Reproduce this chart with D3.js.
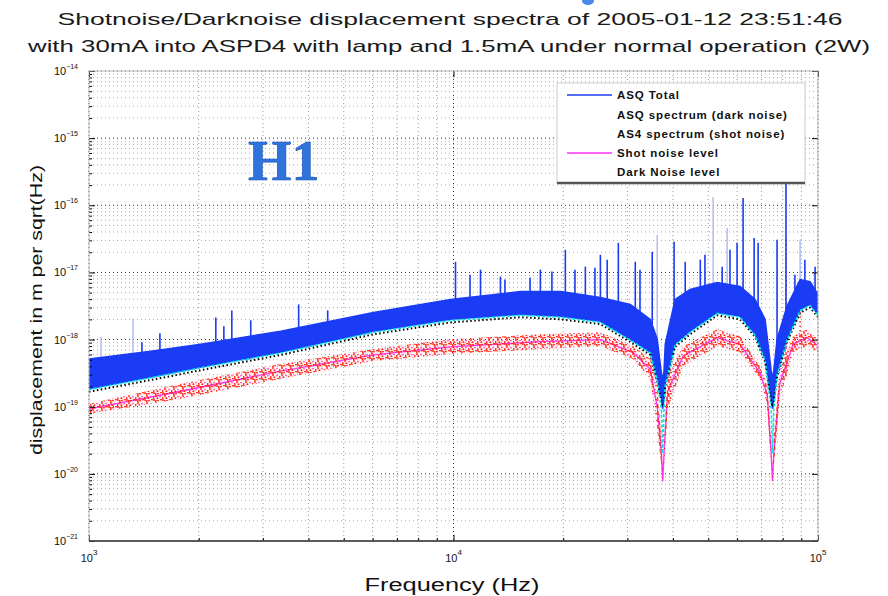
<!DOCTYPE html>
<html>
<head>
<meta charset="utf-8">
<script src="https://cdn.jsdelivr.net/npm/d3@7"></script>
<style>
body { margin: 0; background: #fff; }
svg text { font-family: "Liberation Sans", Arial, Helvetica, sans-serif; }
</style>
</head>
<body>
<div id="main"></div>
<script>
// ---- data (Hz, m/sqrt(Hz)) ----

// ASQ total: envelope of the dense blue trace
var bandFreq  = [1000, 1479, 2026, 3357, 6036, 9817, 15270, 19700, 25290, 30550, 34670, 36220, 37200, 37500, 37800, 38100,
                 40550, 44570, 52870, 61120, 67200, 71600, 74400, 75000, 75600, 77210, 82200, 89320, 95100, 100000];
var bandUpper = [5.13e-19, 6.73e-19, 8.55e-19, 1.33e-18, 2.54e-18, 3.96e-18, 5.20e-18, 5.20e-18, 4.24e-18, 3.34e-18,
                 2.00e-18, 1.01e-18, 3.08e-19, 2.60e-19, 3.41e-19, 8.55e-19, 3.96e-18, 5.57e-18, 7.06e-18, 6.17e-18,
                 3.96e-18, 2.00e-18, 3.41e-19, 2.60e-19, 3.41e-19, 1.01e-18, 3.12e-18, 7.82e-18, 7.31e-18, 4.70e-18];
var bandLower = [1.85e-19, 2.78e-19, 3.91e-19, 6.51e-19, 1.33e-18, 2.00e-18, 2.38e-18, 2.22e-18, 1.87e-18, 1.01e-18,
                 6.51e-19, 2.60e-19, 1.31e-19, 9.33e-20, 1.31e-19, 2.19e-19, 8.55e-19, 1.33e-18, 2.54e-18, 2.22e-18,
                 1.20e-18, 5.13e-19, 1.31e-19, 9.33e-20, 1.31e-19, 3.08e-19, 1.01e-18, 2.82e-18, 3.34e-18, 2.38e-18];
// black dots (shot noise spectrum) and cyan dots (dark noise spectrum), same frequencies
var shotSpec  = [1.67e-19, 2.50e-19, 3.50e-19, 5.90e-19, 1.20e-18, 1.80e-18, 2.15e-18, 2.00e-18, 1.70e-18, 9.20e-19,
                 5.90e-19, 2.40e-19, 1.20e-19, 1.00e-19, 1.20e-19, 2.00e-19, 7.80e-19, 1.20e-18, 2.30e-18, 2.00e-18,
                 1.10e-18, 4.60e-19, 1.20e-19, 1.00e-19, 1.20e-19, 2.80e-19, 9.20e-19, 2.50e-18, 3.00e-18, 2.15e-18];
var darkSpec  = [1.80e-19, 2.70e-19, 3.80e-19, 6.30e-19, 1.28e-18, 1.92e-18, 2.30e-18, 2.15e-18, 1.80e-18, 9.80e-19,
                 6.30e-19, 2.50e-19, 9.00e-20, 2.02e-20, 9.00e-20, 2.10e-19, 8.30e-19, 1.28e-18, 2.45e-18, 2.15e-18,
                 1.15e-18, 4.90e-19, 9.00e-20, 2.02e-20, 9.00e-20, 2.95e-19, 9.70e-19, 2.70e-18, 3.20e-18, 2.30e-18];

// red dots (dark noise) band and magenta shot noise level
var redFreq   = [1000, 1787, 3357, 6036, 9817, 17310, 25290, 31110, 34670, 36220, 37200, 37500, 37800, 38700,
                 42660, 52870, 61120, 69320, 72500, 74400, 75000, 75600, 78500, 85450, 93330, 100000];
var redUpper  = [1.11e-19, 2.19e-19, 4.33e-19, 7.21e-19, 1.01e-18, 1.20e-18, 1.29e-18, 7.98e-19, 5.13e-19, 2.19e-19,
                 3.36e-20, 8.61e-21, 3.36e-20, 3.08e-19, 7.98e-19, 1.43e-18, 1.12e-18, 4.04e-19, 2.19e-19, 3.36e-20,
                 8.61e-21, 3.36e-20, 3.65e-19, 1.12e-18, 1.43e-18, 1.01e-18];
var redLower  = [7.87e-20, 1.31e-19, 2.60e-19, 4.80e-19, 6.08e-19, 7.21e-19, 7.98e-19, 5.13e-19, 2.60e-19, 4.73e-20,
                 1.21e-20, 6.78e-21, 1.21e-20, 9.33e-20, 4.04e-19, 7.98e-19, 6.51e-19, 2.60e-19, 1.11e-19, 1.21e-20,
                 6.78e-21, 1.21e-20, 1.31e-19, 6.51e-19, 7.98e-19, 6.51e-19];
var shotLevel = [9.3e-20, 1.7e-19, 3.4e-19, 5.9e-19, 7.8e-19, 9.3e-19, 1.0e-18, 6.4e-19, 3.6e-19, 1.0e-19,
                 2.0e-20, 7.8e-21, 2.0e-20, 1.7e-19, 5.7e-19, 1.07e-18, 8.5e-19, 3.2e-19, 1.55e-19, 2.0e-20,
                 7.8e-21, 2.0e-20, 2.2e-19, 8.5e-19, 1.07e-18, 8.1e-19];

// lines sticking out of the blue trace
var spikeFreq = [1397, 1565, 2228, 2344, 2465, 2778, 3760, 4517, 10127, 11100, 11860, 13450, 13840, 16220, 17310,
                 18620, 20270, 21540, 23000, 24440, 25290, 26400, 28330, 31530, 32480, 35090, 40290, 43220, 47540,
                 48960, 54580, 57350, 59980, 62300, 66800, 68500, 77210, 81700, 86430, 92050, 98170];
var spikeTop  = [9.15e-19, 1.24e-18, 2.14e-18, 1.58e-18, 2.72e-18, 1.94e-18, 3.34e-18, 2.72e-18, 1.44e-17, 9.27e-18,
                 1.10e-17, 8.67e-18, 7.82e-18, 8.38e-18, 1.10e-17, 1.03e-17, 2.17e-17, 1.10e-17, 1.22e-17, 1.17e-17,
                 1.83e-17, 1.55e-17, 2.76e-17, 1.44e-17, 1.10e-17, 2.03e-17, 2.86e-17, 1.44e-17, 1.55e-17, 1.83e-17,
                 1.22e-17, 2.17e-17, 2.76e-17, 1.28e-16, 3.27e-17, 2.76e-17, 3.06e-17, 2.13e-16, 9.27e-18, 1.55e-17,
                 1.22e-17];
var faintFreq = [1079, 1320, 36220, 51560, 56320, 89320];
var faintTop  = [1.09e-18, 2.00e-18, 3.62e-17, 1.32e-16, 4.60e-17, 3.06e-17];
var redSpikeFreq = [81700, 89320];
var redSpikeTop  = [3.06e-17, 5.57e-18];

var legendLabels = ['ASQ Total', 'ASQ spectrum (dark noise)', 'AS4 spectrum (shot noise)', 'Shot noise level', 'Dark Noise level'];
var legendColors = ['#1a3cf5', '#00e5e5', '#000000', '#ff33ff', '#ff2a1a'];
var xTickExps = [3, 4, 5];
var yTickExps = [-21, -20, -19, -18, -17, -16, -15, -14];
var titleLines = ['Shotnoise/Darknoise displacement spectra of 2005-01-12 23:51:46',
                  'with 30mA into ASPD4 with lamp and 1.5mA under normal operation (2W)'];

// ---- layout ----
var W = 888, H = 596;
var plotL = 89, plotR = 818, plotT = 71, plotB = 541;

var svg = d3.select('#main').append('svg')
			.attr('width', W)
			.attr('height', H);

var x = d3.scaleLog().domain([1e3, 1e5]).range([plotL, plotR]);
var y = d3.scaleLog().domain([1e-21, 1e-14]).range([plotB, plotT]);

var defs = svg.append('defs');
defs.append('clipPath').attr('id', 'plotclip')
	.append('rect').attr('x', plotL).attr('y', plotT)
	.attr('width', plotR - plotL).attr('height', plotB - plotT);

// texture for the scattered red points
var pat = defs.append('pattern').attr('id', 'reddots')
	.attr('patternUnits', 'userSpaceOnUse').attr('width', 9).attr('height', 7);
[[1, 1], [5, 1.6], [8, 0.5], [3, 4], [7, 4.6], [0.6, 6], [4.4, 6.2], [2.8, 2]].forEach(function(p, i){
	pat.append('circle').attr('cx', p[0]).attr('cy', p[1]).attr('r', 0.95)
		.attr('fill', i % 5 == 4 ? '#ff55cc' : '#ff2010');
});

// ---- grid ----
var xt = x.ticks(), yt = y.ticks();
function isMajor(v){ return Math.abs(Math.log10(v) - Math.round(Math.log10(v))) < 1e-6; }

var grid = svg.append('g');
grid.selectAll('line.gx').data(xt).enter().append('line')
	.attr('x1', function(d){ return x(d); }).attr('x2', function(d){ return x(d); })
	.attr('y1', plotT).attr('y2', plotB)
	.attr('stroke', function(d){ return isMajor(d) ? '#333' : '#999'; })
	.attr('stroke-width', 1)
	.attr('stroke-dasharray', '1,3');
grid.selectAll('line.gy').data(yt).enter().append('line')
	.attr('y1', function(d){ return y(d); }).attr('y2', function(d){ return y(d); })
	.attr('x1', plotL).attr('x2', plotR)
	.attr('stroke', function(d){ return isMajor(d) ? '#333' : '#aaa'; })
	.attr('stroke-width', 1)
	.attr('stroke-dasharray', '1,3');

// ---- data marks ----
var plot = svg.append('g').attr('clip-path', 'url(#plotclip)');

function zip(fs, a, b){
	return fs.map(function(f, i){ return {f: f, a: a[i], b: b ? b[i] : null}; });
}
// log-log lookup of the blue lower edge, used as the base of each spike
function lowerAt(f){
	for (var i = 0; i < bandFreq.length - 1; i++) {
		if (f >= bandFreq[i] && f <= bandFreq[i + 1]) {
			var t = (Math.log(f) - Math.log(bandFreq[i])) / (Math.log(bandFreq[i + 1]) - Math.log(bandFreq[i]));
			return Math.exp(Math.log(bandLower[i]) * (1 - t) + Math.log(bandLower[i + 1]) * t);
		}
	}
	return bandLower[bandLower.length - 1];
}

var line = d3.line().x(function(d){ return x(d.f); }).y(function(d){ return y(d.a); });
var area = d3.area().x(function(d){ return x(d.f); })
	.y0(function(d){ return y(d.b); }).y1(function(d){ return y(d.a); });

// magenta shot-noise level (mostly hidden by the red points)
plot.append('path').datum(zip(redFreq, shotLevel))
	.attr('d', line).attr('fill', 'none')
	.attr('stroke', '#ff33ff').attr('stroke-width', 1.3);

// red scattered band
plot.append('path').datum(zip(redFreq, redUpper, redLower))
	.attr('d', area).attr('fill', 'rgba(255,40,30,0.06)');
plot.append('path').datum(zip(redFreq, redUpper, redLower))
	.attr('d', area).attr('fill', 'url(#reddots)');
plot.selectAll('line.rs').data(redSpikeFreq).enter().append('line')
	.attr('x1', function(d){ return x(d); }).attr('x2', function(d){ return x(d); })
	.attr('y1', function(d, i){ return y(redSpikeTop[i]); })
	.attr('y2', function(d){ return y(lowerAt(d) * 0.3); })
	.attr('stroke', '#ff2a1a').attr('stroke-width', 1.5).attr('stroke-dasharray', '1.5,3');

// faint blue lines
plot.selectAll('line.fs').data(faintFreq).enter().append('line')
	.attr('x1', function(d){ return x(d); }).attr('x2', function(d){ return x(d); })
	.attr('y1', function(d, i){ return y(faintTop[i]); })
	.attr('y2', function(d){ return y(lowerAt(d)); })
	.attr('stroke', '#b3bcf4').attr('stroke-width', 1.5);

// blue band
plot.append('path').datum(zip(bandFreq, bandUpper, bandLower))
	.attr('d', area).attr('fill', '#1a3cf5')
	.attr('stroke', '#1a3cf5').attr('stroke-width', 1.5);
plot.selectAll('line.sp').data(spikeFreq).enter().append('line')
	.attr('x1', function(d){ return x(d); }).attr('x2', function(d){ return x(d); })
	.attr('y1', function(d, i){ return y(spikeTop[i]); })
	.attr('y2', function(d){ return y(lowerAt(d)); })
	.attr('stroke', '#1a3cf5').attr('stroke-width', 1.6);

// black and cyan point traces at the lower edge
plot.append('path').datum(zip(bandFreq, shotSpec))
	.attr('d', line).attr('fill', 'none')
	.attr('stroke', '#000').attr('stroke-width', 2).attr('stroke-dasharray', '1.5,2.5');
plot.append('path').datum(zip(bandFreq, darkSpec))
	.attr('d', line).attr('fill', 'none')
	.attr('stroke', '#00e5e5').attr('stroke-width', 1.6).attr('stroke-dasharray', '3,2');

// ---- axes box and ticks ----
function noDomain(g){ g.select('.domain').remove(); g.selectAll('text').remove(); }
var xMaj = xt.filter(isMajor), xMin = xt.filter(function(d){ return !isMajor(d); });
var yMaj = yt.filter(isMajor), yMin = yt.filter(function(d){ return !isMajor(d); });

svg.append('g').attr('transform', 'translate(0,' + plotB + ')')
	.call(d3.axisBottom(x).tickValues(xMaj).tickSize(-6)).call(noDomain);
svg.append('g').attr('transform', 'translate(0,' + plotB + ')')
	.call(d3.axisBottom(x).tickValues(xMin).tickSize(-3)).call(noDomain);
svg.append('g').attr('transform', 'translate(0,' + plotT + ')')
	.call(d3.axisTop(x).tickValues(xMaj).tickSize(-6)).call(noDomain);
svg.append('g').attr('transform', 'translate(' + plotL + ',0)')
	.call(d3.axisLeft(y).tickValues(yMaj).tickSize(-6)).call(noDomain);
svg.append('g').attr('transform', 'translate(' + plotL + ',0)')
	.call(d3.axisLeft(y).tickValues(yMin).tickSize(-3)).call(noDomain);
svg.append('g').attr('transform', 'translate(' + plotR + ',0)')
	.call(d3.axisRight(y).tickValues(yMaj).tickSize(-6)).call(noDomain);

svg.append('rect').attr('x', plotL).attr('y', plotT)
	.attr('width', plotR - plotL).attr('height', plotB - plotT)
	.attr('fill', 'none').attr('stroke', '#bbb').attr('stroke-width', 1);
svg.append('line').attr('x1', plotL).attr('x2', plotR).attr('y1', plotB).attr('y2', plotB)
	.attr('stroke', '#333').attr('stroke-width', 1.6);

// tick labels 10^n
var xl = svg.append('g').selectAll('text').data(xTickExps).enter().append('text')
	.attr('x', function(d){ return x(Math.pow(10, d)); })
	.attr('y', 562)
	.attr('text-anchor', 'middle')
	.attr('font-size', 11).attr('fill', '#111');
xl.append('tspan').text('10');
xl.append('tspan').attr('dy', -7).attr('font-size', 8).text(function(d){ return d; });

var yl = svg.append('g').selectAll('text').data(yTickExps).enter().append('text')
	.attr('x', 78)
	.attr('y', function(d){ return y(Math.pow(10, d)) + 4; })
	.attr('text-anchor', 'end')
	.attr('font-size', 11).attr('fill', '#111');
yl.append('tspan').text('10');
yl.append('tspan').attr('dy', -6).attr('font-size', 7).text(function(d){ return '\u2212' + Math.abs(d); });

// ---- legend ----
var lg = svg.append('g');
lg.append('rect').attr('x', 557).attr('y', 83).attr('width', 248).attr('height', 100)
	.attr('fill', '#fff').attr('stroke', '#ccc');
lg.append('line').attr('x1', 557).attr('x2', 805).attr('y1', 183).attr('y2', 183)
	.attr('stroke', '#555').attr('stroke-width', 2.5);
var items = lg.selectAll('g.item').data(legendLabels).enter().append('g')
	.attr('transform', function(d, i){ return 'translate(0,' + [95, 115, 134, 153, 172][i] + ')'; });
items.filter(function(d, i){ return i == 0 || i == 3; }).append('line')
	.attr('x1', 567).attr('x2', 612)
	.attr('stroke', function(d){ return legendColors[legendLabels.indexOf(d)]; })
	.attr('stroke-width', 1.6);
items.append('text').attr('x', 617).attr('y', 4)
	.attr('font-size', 11.5).attr('font-weight', 'bold').attr('fill', '#111')
	.attr('letter-spacing', 0.9)
	.text(function(d){ return d; });

// ---- titles and labels ----
svg.append('text').attr('x', 450).attr('y', 25).attr('text-anchor', 'middle')
	.attr('font-size', 17).attr('fill', '#1a1a1a')
	.attr('textLength', 785).attr('lengthAdjust', 'spacingAndGlyphs')
	.text(titleLines[0]);
svg.append('text').attr('x', 449).attr('y', 52).attr('text-anchor', 'middle')
	.attr('font-size', 17).attr('fill', '#1a1a1a')
	.attr('textLength', 842).attr('lengthAdjust', 'spacingAndGlyphs')
	.text(titleLines[1]);
svg.append('text').attr('x', 452).attr('y', 591).attr('text-anchor', 'middle')
	.attr('font-size', 18).attr('fill', '#111')
	.attr('textLength', 175).attr('lengthAdjust', 'spacingAndGlyphs')
	.text('Frequency (Hz)');
svg.append('text').attr('transform', 'translate(42,310) rotate(-90)')
	.attr('text-anchor', 'middle')
	.attr('font-size', 17).attr('fill', '#111')
	.attr('textLength', 290).attr('lengthAdjust', 'spacingAndGlyphs')
	.text('displacement in m per sqrt(Hz)');

// site tag
svg.append('text').attr('x', 248).attr('y', 180)
	.style('font-family', '"Liberation Serif", "Times New Roman", serif')
	.attr('font-size', 56).attr('font-weight', 'bold')
	.attr('fill', '#2f74dc').attr('stroke', '#1d55b0').attr('stroke-width', 0.6)
	.text('H1');
svg.append('ellipse').attr('cx', 588).attr('cy', 1).attr('rx', 6).attr('ry', 4).attr('fill', '#4a8ae8');
</script>
</body>
</html>
